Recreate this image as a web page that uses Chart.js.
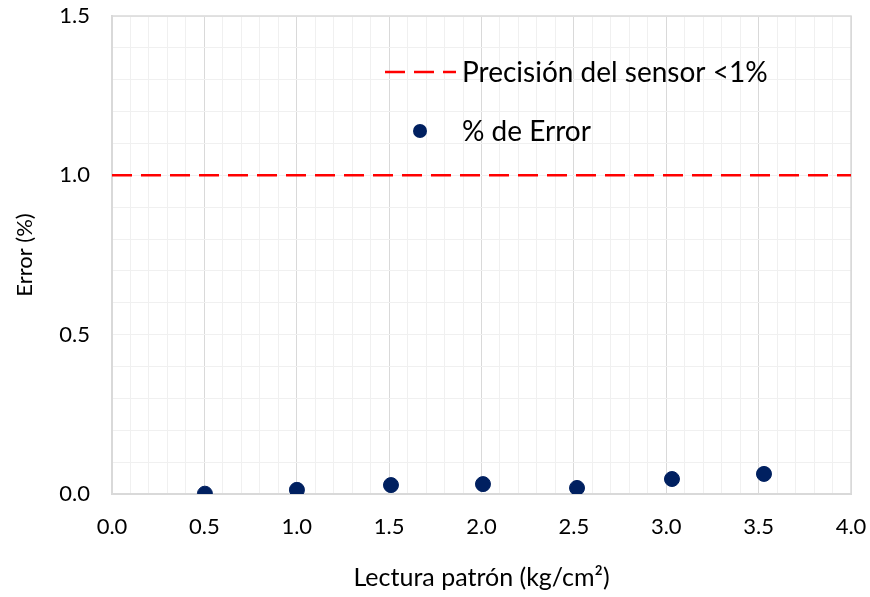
<!DOCTYPE html>
<html>
<head>
<meta charset="utf-8">
<script src="https://cdn.jsdelivr.net/npm/chart.js@4/dist/chart.umd.min.js"></script>
<style>
  html, body { margin: 0; padding: 0; background: #fff; }
  #wrap { width: 870px; height: 597px; }
</style>
</head>
<body>
<div id="wrap"><canvas id="chart"></canvas></div>
<script>
const lecturas = [0.503, 1.001, 1.51, 2.008, 2.517, 3.031, 3.529];
const errores = [0.001, 0.013, 0.028, 0.031, 0.019, 0.047, 0.063];
const limiteX = [0, 4];
const limiteY = [1, 1];
const labelLimite = "Precisión del sensor <1%";
const labelError = "% de Error";

const FONT = "Lato, 'Open Sans', sans-serif";

const isMajor = (v) => Math.round(v * 10) % 5 === 0;

// legend drawn inside the plot, like the original
const legendInside = {
  id: "legendInside",
  afterDatasetsDraw(chart) {
    const { ctx } = chart;
    const ds = chart.data.datasets;
    ctx.save();
    ctx.font = "28px " + FONT;
    ctx.fillStyle = "#000";
    ctx.textBaseline = "middle";

    ctx.strokeStyle = ds[0].borderColor;
    ctx.lineWidth = 2.5;
    ctx.setLineDash([20, 9]);
    ctx.beginPath();
    ctx.moveTo(385, 72);
    ctx.lineTo(456, 72);
    ctx.stroke();
    ctx.setLineDash([]);
    ctx.fillText(ds[0].label, 462, 73);

    ctx.fillStyle = ds[1].backgroundColor;
    ctx.beginPath();
    ctx.arc(420, 131, 7, 0, Math.PI * 2);
    ctx.fill();
    ctx.fillStyle = "#000";
    ctx.fillText(ds[1].label, 462, 132);
    ctx.restore();
  }
};

new Chart(document.getElementById("chart"), {
  type: "scatter",
  data: {
    datasets: [
      {
        label: labelLimite,
        data: limiteX.map((x, i) => ({ x: x, y: limiteY[i] })),
        showLine: true,
        borderColor: "#ff0000",
        borderWidth: 2.5,
        borderDash: [20, 9],
        pointRadius: 0,
        fill: false
      },
      {
        label: labelError,
        data: lecturas.map((x, i) => ({ x: x, y: errores[i] })),
        backgroundColor: "#002060",
        borderColor: "#002060",
        pointRadius: 7.5,
        pointHoverRadius: 7.5
      }
    ]
  },
  options: {
    responsive: true,
    maintainAspectRatio: false,
    animation: false,
    layout: { padding: { top: 16, right: 19, left: 0, bottom: 0 } },
    plugins: {
      legend: { display: false },
      tooltip: { enabled: false }
    },
    scales: {
      x: {
        type: "linear",
        min: 0,
        max: 4,
        afterFit: (s) => {
          s.height = 103;
          s.paddingLeft = 0;
          s.paddingRight = 0;
        },
        ticks: {
          stepSize: 0.1,
          autoSkip: false,
          maxRotation: 0,
          padding: 20,
          color: "#000",
          font: { family: FONT, size: 22 },
          callback: (v) => (isMajor(v) ? v.toFixed(1) : "")
        },
        grid: {
          color: (c) => (isMajor(c.tick.value) ? "#d9d9d9" : "#f0f0f0"),
          lineWidth: 1,
          drawTicks: false
        },
        border: { color: "#d9d9d9", width: 2 },
        title: {
          display: true,
          text: "Lectura patrón (kg/cm²)",
          color: "#000",
          font: { family: FONT, size: 25 },
          padding: { top: 20 }
        }
      },
      y: {
        min: 0,
        max: 1.5,
        afterFit: (s) => {
          s.width = 112;
          s.paddingTop = 0;
          s.paddingBottom = 0;
        },
        ticks: {
          stepSize: 0.1,
          autoSkip: false,
          padding: 22,
          color: "#000",
          font: { family: FONT, size: 22 },
          callback: (v) => (isMajor(v) ? v.toFixed(1) : "")
        },
        grid: {
          color: "#f0f0f0",
          lineWidth: 1,
          drawTicks: false
        },
        border: { color: "#d9d9d9", width: 2 },
        title: {
          display: true,
          text: "Error (%)",
          color: "#000",
          font: { family: FONT, size: 22 },
          padding: { top: 12, bottom: 6 }
        }
      }
    }
  },
  plugins: [legendInside, {
    id: "frame",
    beforeDatasetsDraw(chart) {
      const { ctx, chartArea: a } = chart;
      ctx.save();
      ctx.strokeStyle = "#d9d9d9";
      ctx.lineWidth = 1.5;
      ctx.strokeRect(a.left, a.top, a.right - a.left, a.bottom - a.top);
      ctx.restore();
    }
  }]
});
</script>
</body>
</html>
